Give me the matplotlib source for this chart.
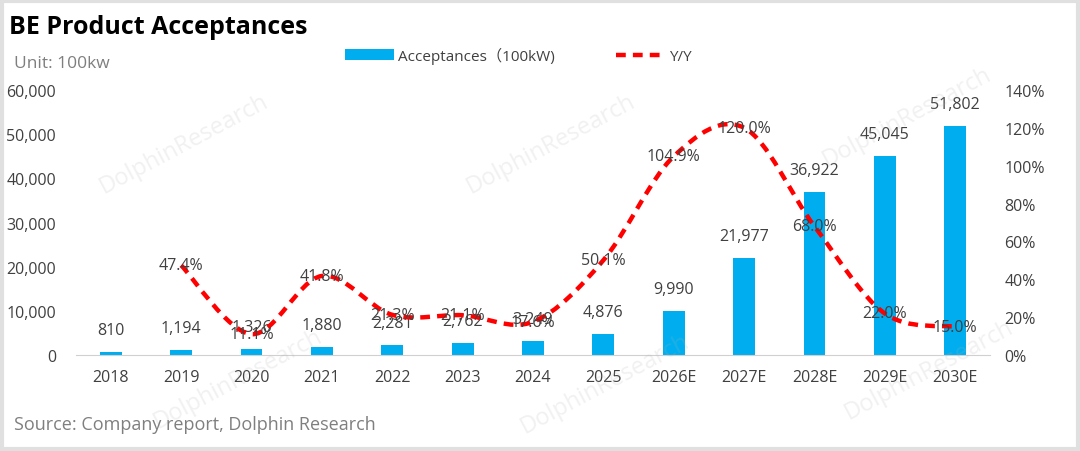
import numpy as np
import matplotlib.pyplot as plt
from matplotlib.path import Path
from matplotlib.patches import PathPatch, Patch
from matplotlib.lines import Line2D
from matplotlib.ticker import FuncFormatter

plt.rcParams['font.family'] = ['Open Sans', 'Noto Sans CJK SC', 'DejaVu Sans']

years = ['2018', '2019', '2020', '2021', '2022', '2023', '2024', '2025',
         '2026E', '2027E', '2028E', '2029E', '2030E']
acceptances = [810, 1194, 1326, 1880, 2281, 2762, 3249, 4876,
               9990, 21977, 36922, 45045, 51802]
# Y/Y growth (%), starts in 2019
yoy = [47.4, 11.1, 41.8, 21.3, 21.1, 17.6, 50.1, 104.9, 120.0, 68.0, 22.0, 15.0]

BLUE = '#00AEEF'
RED = '#FF0000'
TXT = '#404040'

fig = plt.figure(figsize=(10.8, 4.52), dpi=100)
ax = fig.add_axes([0.070, 0.212, 0.847, 0.587])
ax2 = ax.twinx()

x = np.arange(len(years))
ax.bar(x, acceptances, width=0.31, color=BLUE, zorder=2)
ax.set_xlim(-0.5, len(years) - 0.5)
ax.set_ylim(0, 60000)
ax.set_yticks(np.arange(0, 60001, 10000))
ax.yaxis.set_major_formatter(FuncFormatter(lambda v, p: f'{v:,.0f}'))
ax.set_xticks(x)
ax.set_xticklabels(years)

for xi, v in zip(x, acceptances):
    ax.annotate(f'{v:,}', (xi, v), xytext=(0, 10), textcoords='offset points',
                ha='center', va='bottom', fontsize=11.5, color=TXT, zorder=5)

# smoothed Y/Y line (Bezier through the points, like Excel's smooth line)
xs = x[1:].astype(float)
pts = np.column_stack([xs, yoy])
verts = [tuple(pts[0])]
codes = [Path.MOVETO]
n = len(pts)
for i in range(n - 1):
    p0 = pts[max(i - 1, 0)]
    p1 = pts[i]
    p2 = pts[i + 1]
    p3 = pts[min(i + 2, n - 1)]
    c1 = p1 + (p2 - p0) / 6
    c2 = p2 - (p3 - p1) / 6
    verts += [tuple(c1), tuple(c2), tuple(p2)]
    codes += [Path.CURVE4] * 3
ax2.add_patch(PathPatch(Path(verts, codes), fill=False, edgecolor=RED,
                        lw=3.2, ls=(0, (2.2, 1.6)), zorder=3))

ax2.set_ylim(0, 140)
ax2.set_yticks(np.arange(0, 141, 20))
ax2.yaxis.set_major_formatter(FuncFormatter(lambda v, p: f'{v:.0f}%'))

for xi, v in zip(xs, yoy):
    ax2.text(xi, v, f'{v:.1f}%', ha='center', va='center', fontsize=11.5,
             color=TXT, zorder=6)

for a in (ax, ax2):
    for s in a.spines.values():
        s.set_visible(False)
    a.tick_params(length=0, labelsize=11.5, colors=TXT)
ax.spines['bottom'].set_visible(True)
ax.spines['bottom'].set_color('#D0D0D0')
ax.tick_params(axis='x', pad=10)
ax.tick_params(axis='y', pad=14)
ax2.tick_params(axis='y', pad=10)

# watermarks
for wx, wy in [(0.17, 0.68), (0.51, 0.68), (0.84, 0.74), (0.22, 0.16),
               (0.56, 0.15), (0.86, 0.18)]:
    fig.text(wx, wy, 'DolphinResearch', fontsize=17, color='#B0B0B0',
             alpha=0.18, rotation=28, ha='center', va='center', zorder=0)

fig.text(0.008, 0.94, 'BE Product Acceptances', fontsize=18, fontweight='bold',
         color='black', va='center')
fig.text(0.013, 0.858, 'Unit: 100kw', fontsize=12.5, color='#7F7F7F', va='center')
fig.text(0.013, 0.06, 'Source: Company report, Dolphin Research', fontsize=13,
         color='#7F7F7F', va='center')

handles = [Patch(facecolor=BLUE, label='Acceptances（100kW)'),
           Line2D([], [], color=RED, lw=3.2, ls=(0, (2.2, 1.6)), label='Y/Y')]
fig.legend(handles=handles, loc='center', bbox_to_anchor=(0.48, 0.875), ncol=2,
           frameon=False, fontsize=11, handlelength=3.2, columnspacing=4,
           labelcolor=TXT, handletextpad=0.3)

# light grey frame
fig.patches.append(plt.Rectangle((0.002, 0.004), 0.996, 0.992, transform=fig.transFigure,
                                 fill=False, edgecolor='#E0E0E0', lw=3))

fig.savefig('out.png', dpi=100)
